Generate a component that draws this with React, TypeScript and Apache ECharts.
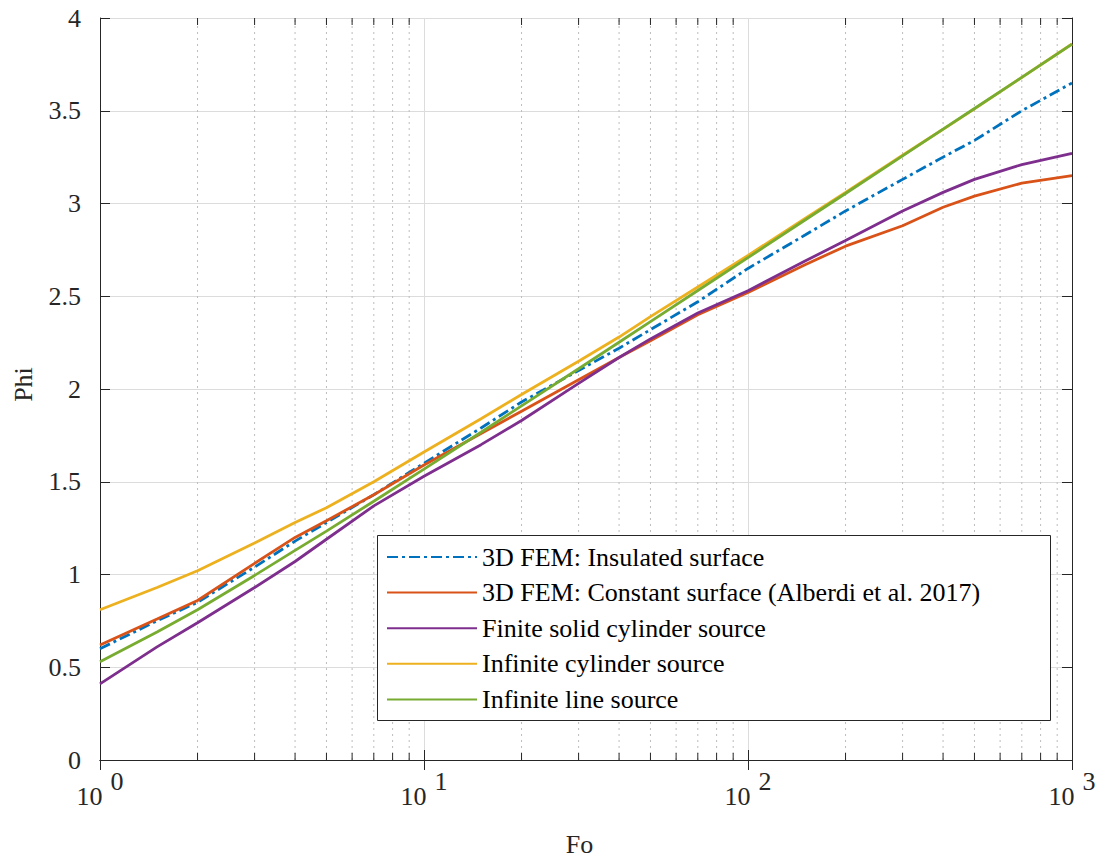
import React, { useEffect, useRef } from "react";
import * as echarts from "echarts";

const fo = [1, 1.5, 2, 3, 4, 5, 7, 10, 15, 20, 30, 40, 50, 70, 100, 150, 200, 300, 400, 500, 700, 1000];
const insulated = [0.6, 0.75, 0.85, 1.04, 1.18, 1.28, 1.43, 1.6, 1.79, 1.93, 2.1, 2.22, 2.32, 2.47, 2.65, 2.83, 2.96, 3.13, 3.25, 3.34, 3.5, 3.65];
const constant = [0.62, 0.76, 0.86, 1.06, 1.2, 1.29, 1.43, 1.59, 1.76, 1.88, 2.05, 2.17, 2.26, 2.4, 2.52, 2.67, 2.77, 2.88, 2.98, 3.04, 3.11, 3.15];
const finiteCyl = [0.41, 0.61, 0.74, 0.93, 1.07, 1.19, 1.37, 1.53, 1.7, 1.83, 2.03, 2.17, 2.27, 2.41, 2.53, 2.69, 2.8, 2.96, 3.06, 3.13, 3.21, 3.27];
const infCyl = [0.81, 0.93, 1.02, 1.17, 1.28, 1.36, 1.5, 1.66, 1.84, 1.97, 2.15, 2.28, 2.39, 2.55, 2.72, 2.92, 3.06, 3.26, 3.4, 3.51, 3.68, 3.86];
const infLine = [0.53, 0.69, 0.81, 0.995, 1.13, 1.234, 1.395, 1.568, 1.767, 1.909, 2.109, 2.252, 2.363, 2.531, 2.708, 2.911, 3.054, 3.257, 3.401, 3.512, 3.68, 3.859];

const seriesNames = [
  "3D FEM: Insulated surface",
  "3D FEM: Constant surface (Alberdi et al. 2017)",
  "Finite solid cylinder source",
  "Infinite cylinder source",
  "Infinite line source",
];
const seriesColors = ["#0072BD", "#D95319", "#7E2F8E", "#EDB120", "#77AC30"];
const seriesValues = [insulated, constant, finiteCyl, infCyl, infLine];

const minorTicks = [2, 3, 4, 5, 6, 7, 8, 9, 20, 30, 40, 50, 60, 70, 80, 90, 200, 300, 400, 500, 600, 700, 800, 900];

const X_MIN = 1;
const X_MAX = 1000;
const Y_MIN = 0;
const Y_MAX = 4;
const Y_STEP = 0.5;

const FONT = "Liberation Serif";
const FS = 26;
const AXIS_COLOR = "#262626";

export default function App() {
  const ref = useRef<HTMLDivElement>(null);

  useEffect(() => {
    if (!ref.current) return;
    const chart = echarts.init(ref.current, null, { renderer: "svg" });

    const lineSeries = seriesNames.map((name, i) => ({
      name,
      type: "line",
      data: fo.map((x, j) => [x, seriesValues[i][j]]),
      showSymbol: false,
      symbol: "none",
      smooth: false,
      z: 2,
      color: seriesColors[i],
      lineStyle: {
        color: seriesColors[i],
        width: 2.8,
        type: i === 0 ? [11, 4, 3, 4] : "solid",
        cap: "butt",
      },
    }));

    const option: any = {
      animation: false,
      backgroundColor: "#ffffff",
      textStyle: { fontFamily: FONT },
      grid: { left: 100, right: 24, top: 18, bottom: 98, containLabel: false, outerBoundsMode: "none" },
      xAxis: [
        {
          type: "log",
          logBase: 10,
          min: X_MIN,
          max: X_MAX,
          splitNumber: 3,
          name: "Fo",
          nameLocation: "middle",
          nameGap: 72,
          nameTextStyle: { fontFamily: FONT, fontSize: FS, lineHeight: 24, color: AXIS_COLOR, padding: [0, 13, 0, 0] },
          axisLine: { show: true, lineStyle: { color: AXIS_COLOR, width: 1 } },
          axisTick: { show: true, inside: true, length: 10, lineStyle: { color: AXIS_COLOR, width: 1 } },
          axisLabel: {
            show: true,
            margin: 16,
            color: AXIS_COLOR,
            formatter: (v: number) => "{b|10}{s|" + Math.round(Math.log10(v)) + "}",
            rich: {
              b: { fontFamily: FONT, fontSize: FS, lineHeight: 26, color: AXIS_COLOR, padding: [15, 0, 0, 0] },
              s: { fontFamily: FONT, fontSize: FS, lineHeight: 26, color: AXIS_COLOR, padding: [0, 0, 15, 8] },
            },
          },
          splitLine: { show: true, lineStyle: { color: "#dcdcdc", width: 1 } },
        },
        {
          type: "log",
          logBase: 10,
          min: X_MIN,
          max: X_MAX,
          splitNumber: 3,
          position: "top",
          axisLine: { show: true, lineStyle: { color: AXIS_COLOR, width: 1 } },
          axisTick: { show: true, inside: true, length: 10, lineStyle: { color: AXIS_COLOR, width: 1 } },
          axisLabel: { show: false },
          splitLine: { show: false },
        },
      ],
      yAxis: [
        {
          type: "value",
          min: Y_MIN,
          max: Y_MAX,
          interval: Y_STEP,
          name: "Phi",
          nameLocation: "middle",
          nameGap: 64,
          nameTextStyle: { fontFamily: FONT, fontSize: FS, color: AXIS_COLOR, padding: [0, 0, 0, 9] },
          axisLine: { show: true, lineStyle: { color: AXIS_COLOR, width: 1 } },
          axisTick: { show: true, inside: true, length: 10, lineStyle: { color: AXIS_COLOR, width: 1 } },
          axisLabel: {
            margin: 19,
            fontFamily: FONT,
            fontSize: FS,
            color: AXIS_COLOR,
            padding: [8, 0, 0, 0],
          },
          splitLine: { show: true, lineStyle: { color: "#dcdcdc", width: 1 } },
        },
        {
          type: "value",
          min: Y_MIN,
          max: Y_MAX,
          interval: Y_STEP,
          position: "right",
          axisLine: { show: true, lineStyle: { color: AXIS_COLOR, width: 1 } },
          axisTick: { show: true, inside: true, length: 10, lineStyle: { color: AXIS_COLOR, width: 1 } },
          axisLabel: { show: false },
          splitLine: { show: false },
        },
      ],
      legend: {
        data: seriesNames,
        orient: "vertical",
        left: 386,
        top: 544,
        padding: 0,
        itemWidth: 90,
        itemHeight: 14,
        itemGap: 9.6,
        z: 6,
        itemStyle: { opacity: 0 },
        textStyle: { fontFamily: FONT, fontSize: FS, lineHeight: 26, color: "#000000" },
      },
      graphic: [
        {
          type: "rect",
          z: 5,
          silent: true,
          shape: { x: 377.5, y: 535.5, width: 673, height: 185 },
          style: { fill: "#ffffff", stroke: AXIS_COLOR, lineWidth: 1 },
        },
      ],
      series: [
        {
          name: "minor",
          type: "custom",
          silent: true,
          z: 1,
          clip: false,
          data: minorTicks.map((v) => [v, Y_MIN]),
          renderItem: (params: any, api: any) => {
            const v = api.value(0);
            const b = api.coord([v, Y_MIN]);
            const t = api.coord([v, Y_MAX]);
            return {
              type: "group",
              children: [
                {
                  type: "line",
                  shape: { x1: b[0], y1: b[1], x2: t[0], y2: t[1] },
                  style: { stroke: "#bdbdbd", lineWidth: 1, lineDash: [2, 4] },
                },
                {
                  type: "line",
                  shape: { x1: b[0], y1: b[1], x2: b[0], y2: b[1] - 7 },
                  style: { stroke: AXIS_COLOR, lineWidth: 1 },
                },
                {
                  type: "line",
                  shape: { x1: t[0], y1: t[1], x2: t[0], y2: t[1] + 7 },
                  style: { stroke: AXIS_COLOR, lineWidth: 1 },
                },
              ],
            };
          },
        },
        ...lineSeries,
      ],
    };

    chart.setOption(option);
    return () => chart.dispose();
  }, []);

  return (
    <div
      ref={ref}
      style={{ position: "absolute", left: 0, top: 0, width: 1096, height: 858, background: "#fff" }}
    />
  );
}
